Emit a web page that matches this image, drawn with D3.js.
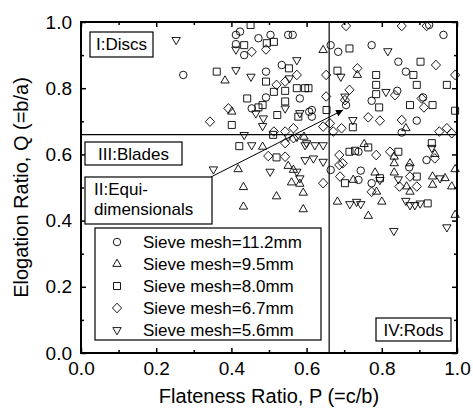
<!DOCTYPE html>
<html>
<head>
<meta charset="utf-8">
<script src="https://cdn.jsdelivr.net/npm/d3@7"></script>
<style>
body{margin:0;background:#fff}
text{font-family:Arial,"Liberation Sans",sans-serif;fill:#000}
</style>
</head>
<body>
<svg id="chart" width="473" height="411"></svg>
<script>
// [P, Q] pairs
const mesh112 = [[.412,.961],[.423,.971],[.472,.951],[.504,.961],[.551,.961],[.563,.961],[.412,.933],[.434,.900],[.272,.840],[.492,.850],[.534,.870],[.582,.769],[.492,.772],[.454,.739],[.607,.729],[.926,.991],[.964,.961],[.664,.930],[.684,.910],[.773,.930],[.844,.880],[.864,.850],[.841,.792],[.705,.749],[.773,.762],[.910,.772],[.614,.734],[.614,.714],[.853,.666],[.664,.553],[.738,.608],[.919,.583],[.873,.561],[.738,.523],[.744,.551],[.773,.513],[.893,.702]];
const mesh95 = [[.383,.823],[.401,.729],[.593,.653],[.644,.915],[.735,.840],[.864,.679],[.483,.623],[.418,.555],[.551,.565],[.565,.553],[.560,.515],[.582,.511],[.432,.501],[.520,.473],[.591,.484],[.432,.442],[.591,.434],[.753,.631],[.833,.593],[.833,.573],[.941,.601],[.875,.573],[.724,.523],[.782,.545],[.786,.487],[.833,.545],[.866,.503],[.875,.487],[.935,.533],[.935,.508],[.968,.528],[.986,.503],[.995,.555],[.682,.457],[.800,.457],[.764,.414],[.995,.417]];
const mesh80 = [[.451,.991],[.434,.930],[.513,.940],[.494,.936],[.361,.850],[.492,.820],[.553,.860],[.543,.792],[.513,.789],[.574,.800],[.596,.800],[.605,.800],[.442,.769],[.483,.749],[.472,.742],[.543,.760],[.522,.719],[.401,.689],[.578,.714],[.511,.659],[.714,.920],[.903,.880],[.884,.840],[.973,.810],[.893,.810],[.682,.853],[.785,.840],[.785,.810],[.785,.782],[.793,.742],[.875,.749],[.935,.749],[.995,.732],[.653,.734],[.723,.682],[.421,.625],[.520,.591],[.714,.608],[.729,.611],[.764,.621],[.844,.608],[.933,.634],[.702,.513],[.795,.528],[.893,.533],[.922,.452]];
const mesh67 = [[.454,.910],[.492,.917],[.574,.840],[.543,.820],[.520,.810],[.392,.739],[.343,.699],[.513,.669],[.543,.669],[.565,.679],[.705,.988],[.853,.988],[.919,.988],[.944,.870],[.995,.840],[.652,.840],[.735,.860],[.835,.779],[.714,.795],[.702,.764],[.906,.769],[.912,.742],[.652,.775],[.764,.712],[.795,.702],[.853,.704],[.973,.679],[.953,.669],[.986,.664],[.644,.684],[.662,.694],[.693,.679],[.671,.669],[.498,.595],[.543,.593],[.543,.634],[.565,.649],[.644,.513],[.687,.598],[.687,.568],[.696,.573],[.785,.598],[.822,.608],[.941,.588],[.689,.533],[.773,.487],[.847,.503],[.875,.533],[.893,.503]];
const mesh56 = [[.253,.946],[.412,.917],[.412,.855],[.452,.835],[.574,.885],[.554,.830],[.465,.724],[.543,.739],[.485,.709],[.483,.686],[.582,.725],[.434,.659],[.551,.653],[.574,.653],[.816,.912],[.691,.835],[.811,.789],[.702,.775],[.723,.704],[.454,.628],[.352,.555],[.503,.548],[.574,.548],[.582,.528],[.596,.628],[.596,.583],[.600,.634],[.622,.628],[.644,.628],[.618,.588],[.644,.578],[.933,.620],[.795,.523],[.844,.525],[.955,.528],[.715,.450],[.733,.457],[.744,.450],[.864,.460],[.875,.447],[.888,.447],[.902,.452],[.832,.369],[.973,.380]];

const seriesNames = ["Sieve mesh=11.2mm","Sieve mesh=9.5mm","Sieve mesh=8.0mm","Sieve mesh=6.7mm","Sieve mesh=5.6mm"];
const seriesShapes = ["circle","up","square","diamond","down"];
const seriesData = [mesh112, mesh95, mesh80, mesh67, mesh56];

const majorTicks = [0, 0.2, 0.4, 0.6, 0.8, 1.0];
const minorTicks = [0.1, 0.3, 0.5, 0.7, 0.9];
const divider = 0.66;

let chart = d3.select("#chart");

xScale = d3.scaleLinear().domain([0, 1]).range([81, 457]);
yScale = d3.scaleLinear().domain([0, 1]).range([353, 22]);

function shapePath(kind){
    if(kind == "circle") return d3.symbol(d3.symbolCircle, 44)();
    if(kind == "up") return "M0,-4.8L4.2,2.4L-4.2,2.4Z";
    if(kind == "down") return "M0,4.8L4.2,-2.4L-4.2,-2.4Z";
    if(kind == "square") return "M-3.5,-3.5h7v7h-7Z";
    return "M0,-4.8L4.6,0L0,4.8L-4.6,0Z";
}

// dividing lines
chart.append("line")
    .attr("x1", xScale(divider)).attr("x2", xScale(divider))
    .attr("y1", yScale(0)).attr("y2", yScale(1))
    .attr("stroke", "#000").attr("stroke-width", 1.2);
chart.append("line")
    .attr("x1", xScale(0)).attr("x2", xScale(1))
    .attr("y1", yScale(divider)).attr("y2", yScale(divider))
    .attr("stroke", "#000").attr("stroke-width", 1.2);

// points
seriesData.forEach((data, i) => {
    chart.append("g").selectAll("path")
        .data(data).enter()
            .append("path")
                .attr("d", shapePath(seriesShapes[i]))
                .attr("transform", d => "translate(" + xScale(d[0]) + "," + yScale(d[1]) + ")")
                .attr("fill", "none")
                .attr("stroke", "#000")
                .attr("stroke-width", 0.9);
});

// axes: major ticks inward with labels, minor ticks inward
function axisSet(axisFn, scale, transform, labels){
    let major = axisFn(scale).tickValues(majorTicks).tickSize(-5).tickPadding(9)
        .tickFormat(labels ? d3.format(".1f") : "");
    let minor = axisFn(scale).tickValues(minorTicks).tickSize(-3).tickFormat("");
    [major, minor].forEach(a => {
        let g = chart.append("g").attr("transform", transform).call(a);
        g.select(".domain").remove();
        g.selectAll("line").attr("stroke", "#000").attr("stroke-width", 1.5);
        g.selectAll("text").attr("font-size", "19px").attr("fill", "#000")
            .attr("font-family", "Arial, 'Liberation Sans', sans-serif");
    });
}
axisSet(d3.axisBottom, xScale, "translate(0," + yScale(0) + ")", true);
axisSet(d3.axisTop, xScale, "translate(0," + yScale(1) + ")", false);
axisSet(d3.axisLeft, yScale, "translate(" + xScale(0) + ",0)", true);
axisSet(d3.axisRight, yScale, "translate(" + xScale(1) + ",0)", false);

chart.append("rect")
    .attr("x", xScale(0)).attr("y", yScale(1))
    .attr("width", xScale(1) - xScale(0)).attr("height", yScale(0) - yScale(1))
    .attr("fill", "none").attr("stroke", "#000").attr("stroke-width", 2);

// region labels
function boxLabel(bx, by, bw, bh, lines, tx, anchor){
    chart.append("rect").attr("x", bx).attr("y", by).attr("width", bw).attr("height", bh)
        .attr("fill", "#fff").attr("stroke", "#000").attr("stroke-width", 1.2);
    lines.forEach((t, i) => {
        chart.append("text").text(t)
            .attr("x", tx).attr("y", by + 18 + i * 20)
            .style("text-anchor", anchor)
            .attr("font-size", "17px");
    });
}

// arrow for II
chart.append("defs").append("marker")
    .attr("id", "ah").attr("viewBox", "0 0 10 10").attr("refX", 10).attr("refY", 5)
    .attr("markerWidth", 10).attr("markerHeight", 7).attr("orient", "auto")
    .attr("markerUnits", "userSpaceOnUse")
    .append("path").attr("d", "M0,0L10,5L0,10Z").attr("fill", "#000");
chart.append("line")
    .attr("x1", xScale(0.346)).attr("y1", yScale(0.532))
    .attr("x2", xScale(0.697)).attr("y2", yScale(0.734))
    .attr("stroke", "#000").attr("stroke-width", 1).attr("marker-end", "url(#ah)");

boxLabel(90, 32, 63, 25, ["I:Discs"], 121.5, "middle");
boxLabel(85, 142, 97, 23, ["III:Blades"], 133.5, "middle");
boxLabel(85, 177, 127, 47, ["II:Equi-", "dimensionals"], 94, "start");
boxLabel(376, 318, 75, 23, ["IV:Rods"], 413.5, "middle");

// legend
let legend = chart.append("g");
legend.append("rect").attr("x", 95).attr("y", 228).attr("width", 226).attr("height", 112)
    .attr("fill", "#fff").attr("stroke", "#000").attr("stroke-width", 1.2);
seriesNames.forEach((name, i) => {
    let ly = 242 + i * 22;
    legend.append("path").attr("d", shapePath(seriesShapes[i]))
        .attr("transform", "translate(117," + ly + ")")
        .attr("fill", "none").attr("stroke", "#000").attr("stroke-width", 0.9);
    legend.append("text").text(name)
        .attr("x", 143).attr("y", ly + 6)
        .attr("font-size", "17px");
});

// axis titles
chart.append("text")
    .text("Flateness Ratio, P (=c/b)")
    .attr("x", (xScale(0) + xScale(1)) / 2)
    .attr("y", 403)
    .style("text-anchor", "middle")
    .attr("font-size", "20px");

chart.append("text")
    .text("Elogation Ratio, Q (=b/a)")
    .attr("transform", "translate(28," + (yScale(0) + yScale(1)) / 2 + ") rotate(-90)")
    .style("text-anchor", "middle")
    .attr("font-size", "20px");
</script>
</body>
</html>
